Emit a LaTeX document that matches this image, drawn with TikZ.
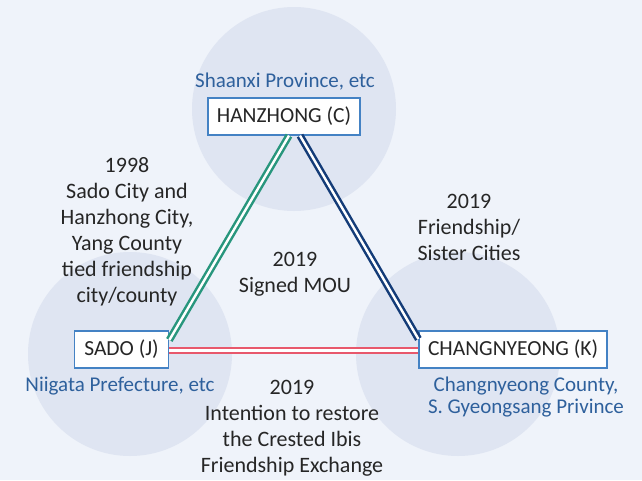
\documentclass[tikz,border=0pt]{standalone}
\usepackage{fontspec}
\setmainfont{Carlito}
\usetikzlibrary{positioning}

\definecolor{bgblue}{RGB}{239,243,250}
\definecolor{circblue}{RGB}{223,229,242}
\definecolor{boxblue}{RGB}{68,130,196}
\definecolor{labelblue}{RGB}{46,96,156}
\definecolor{tealline}{RGB}{40,150,125}
\definecolor{navyline}{RGB}{20,60,120}
\definecolor{redline}{RGB}{232,88,108}
\definecolor{textgray}{RGB}{38,38,38}

\tikzset{
  city/.style={draw=boxblue, line width=1.2pt, fill=white, minimum height=37pt,
    inner sep=0pt, font=\fontsize{21.5}{24}\selectfont, text=textgray},
  region/.style={text=labelblue, align=center, font=\fontsize{21}{22}\selectfont},
  note/.style={text=textgray, align=center, font=\fontsize{22}{26}\selectfont},
  link/.style={double=white, double distance=2.4pt, line width=2.5pt}
}

\begin{document}
\begin{tikzpicture}[x=1pt,y=-1pt]
        % Background and the three circles
        \fill[bgblue] (0,0) rectangle (642,480);
        \fill[circblue] (294,109) circle (102)
                        (130,354) circle (102)
                        (458,354) circle (102);

        % City boxes
        \node[city, minimum width=152pt] (hanzhong) at (284,116.5) {HANZHONG (C)};
        \node[city, minimum width=94.5pt] (sado) at (121.5,349.5) {SADO (J)};
        \node[city, minimum width=188pt] (chang) at (513,349.5) {CHANGNYEONG (K)};

        % Links between the cities
        \draw[link, draw=tealline] ([yshift=9.5pt]sado.east) -- ([xshift=5pt]hanzhong.south);
        \draw[link, draw=navyline] ([xshift=16pt]hanzhong.south) -- ([yshift=10.5pt]chang.west);
        \draw[link, draw=redline] ([yshift=-1pt]sado.east) -- ([yshift=-1pt]chang.west);

        % Region labels
        \node[region] (shaanxi) at (285,82) {Shaanxi Province, etc};
        \node[region] (niigata) at (120,386) {Niigata Prefecture, etc};
        \node[region] (gyeongsang) at (526,397) {Changnyeong County,\\S. Gyeongsang Privince};

        % Notes on the links
        \node[note] (note1998) at (127,232) {1998\\Sado City and\\Hanzhong City,\\Yang County\\tied friendship\\city/county};
        \node[note] (mou) at (295,274) {2019\\Signed MOU};
        \node[note] (sister) at (469,227.5) {2019\\Friendship/\\Sister Cities};
        \node[note] (ibis) at (292,428.5) {2019\\Intention to restore\\the Crested Ibis\\Friendship Exchange};
\end{tikzpicture}
\end{document}
